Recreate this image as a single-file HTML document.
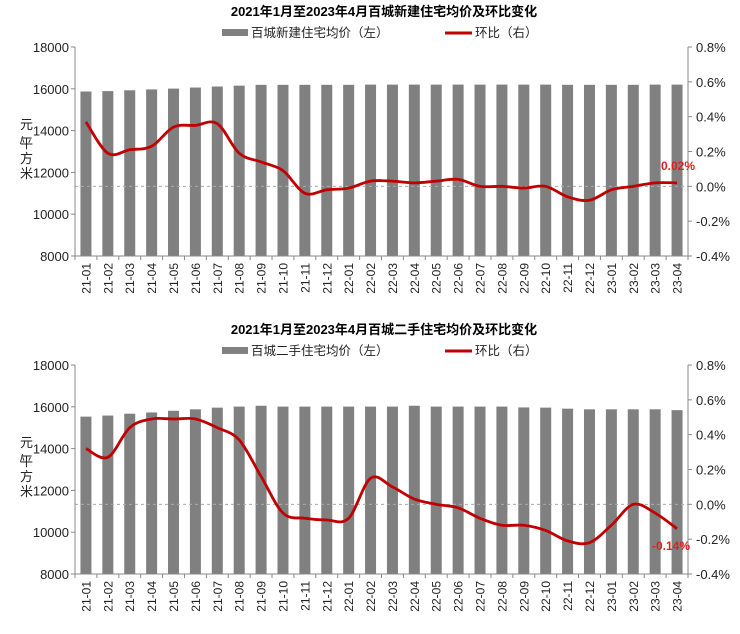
<!DOCTYPE html>
<html><head><meta charset="utf-8"><style>
body{margin:0;background:#fff;width:740px;height:629px;overflow:hidden}
svg{font-family:"Liberation Sans","Noto Sans CJK SC",sans-serif}
</style></head><body>
<svg id="s" width="740" height="629" xmlns="http://www.w3.org/2000/svg"></svg>
<script>
const S=document.getElementById('s');let h='';
const labs=[];for(const y of [21,22,23])for(let m=1;m<=12;m++){if(y==23&&m>4)break;labs.push(y+'-'+String(m).padStart(2,'0'));}
function chart(o){
 const L=75,R=688,T=o.top,B=o.top+209,n=28,cw=(R-L)/n;
 const yL=v=>B-(v-8000)/10000*(B-T), yR=v=>B-(v+0.4)/1.2*(B-T);
 h+=`<text x="384" y="${T-31}" text-anchor="middle" font-size="13" font-weight="bold" fill="#000">${o.title}</text>`;
 h+=`<rect x="222" y="${T-18}" width="26" height="7" fill="#808080"/><text x="251" y="${T-10}" font-size="12.5" fill="#222">${o.leg}</text>`;
 h+=`<line x1="445" y1="${T-14}" x2="472" y2="${T-14}" stroke="#c00000" stroke-width="3"/><text x="475" y="${T-10}" font-size="12.5" fill="#222">环比（右）</text>`;
 o.bars.forEach((v,i)=>{const cx=L+cw*(i+.5);h+=`<rect x="${cx-5.5}" y="${yL(v)}" width="11" height="${B-yL(v)}" fill="#808080"/>`;});
 h+=`<line x1="${L}" y1="${yR(0)}" x2="${R}" y2="${yR(0)}" stroke="#aaa" stroke-dasharray="3,3"/>`;
 h+=`<line x1="${L}" y1="${T}" x2="${L}" y2="${B}" stroke="#888"/><line x1="${R}" y1="${T}" x2="${R}" y2="${B}" stroke="#888"/><line x1="${L}" y1="${B}" x2="${R}" y2="${B}" stroke="#888"/>`;
 for(let v=8000;v<=18000;v+=2000){const y=yL(v);h+=`<line x1="${L-4}" y1="${y}" x2="${L}" y2="${y}" stroke="#888"/><text x="${L-6}" y="${y+5}" text-anchor="end" font-size="13" fill="#222">${v}</text>`;}
 for(let k=-2;k<=4;k++){const v=k*0.2,y=yR(v);h+=`<line x1="${R}" y1="${y}" x2="${R+4}" y2="${y}" stroke="#888"/><text x="${R+8}" y="${y+5}" font-size="13" fill="#222">${v.toFixed(1)}%</text>`;}
 for(let i=0;i<=n;i++){const x=L+cw*i;h+=`<line x1="${x}" y1="${B}" x2="${x}" y2="${B+4}" stroke="#888"/>`;}
 labs.forEach((l,i)=>{const cx=L+cw*(i+.5);h+=`<text transform="translate(${cx+4.5},${B+7}) rotate(-90)" text-anchor="end" font-size="12" fill="#222">${l}</text>`;});
 h+=`<text x="20" y="${T+82}" font-size="13" fill="#222">元</text><text x="20" y="${T+97}" font-size="11" fill="#222">/</text><text x="20" y="${T+101}" font-size="13" fill="#222">平</text><text x="20" y="${T+116}" font-size="13" fill="#222">方</text><text x="20" y="${T+131}" font-size="13" fill="#222">米</text>`;
 const p=o.line.map((v,i)=>[L+cw*(i+.5),yR(v)]);let d=`M${p[0][0]},${p[0][1]}`;
 for(let i=0;i<p.length-1;i++){const p0=p[i-1]||p[i],p1=p[i],p2=p[i+1],p3=p[i+2]||p2;
 d+=`C${p1[0]+(p2[0]-p0[0])/6},${p1[1]+(p2[1]-p0[1])/6} ${p2[0]-(p3[0]-p1[0])/6},${p2[1]-(p3[1]-p1[1])/6} ${p2[0]},${p2[1]}`;}
 h+=`<path d="${d}" fill="none" stroke="#c00000" stroke-width="2.8"/>`;
 h+=`<text x="${o.lx}" y="${o.ly}" font-size="12" font-weight="bold" fill="#e02020">${o.lt}</text>`;
}
chart({top:47,title:"2021年1月至2023年4月百城新建住宅均价及环比变化",leg:"百城新建住宅均价（左）",
bars:[15870,15890,15930,15970,16010,16060,16110,16150,16190,16190,16190,16190,16190,16200,16200,16200,16200,16200,16200,16200,16200,16200,16190,16190,16190,16190,16200,16200],
line:[.37,.19,.21,.23,.34,.35,.36,.19,.14,.09,-.04,-.02,-.01,.03,.03,.02,.03,.04,0,0,-.01,0,-.06,-.08,-.02,0,.02,.02],lx:661,ly:170,lt:"0.02%"});
chart({top:365,title:"2021年1月至2023年4月百城二手住宅均价及环比变化",leg:"百城二手住宅均价（左）",
bars:[15530,15580,15670,15730,15810,15880,15960,16010,16050,16010,16010,16010,16010,16010,16010,16050,16010,16010,16010,16010,15970,15960,15910,15880,15880,15880,15880,15840],
line:[.32,.27,.44,.49,.49,.49,.44,.37,.16,-.05,-.08,-.09,-.08,.15,.1,.03,0,-.02,-.08,-.12,-.12,-.15,-.21,-.22,-.12,0,-.05,-.14],lx:652,ly:550,lt:"-0.14%"});
S.innerHTML=h;
</script>
</body></html>
